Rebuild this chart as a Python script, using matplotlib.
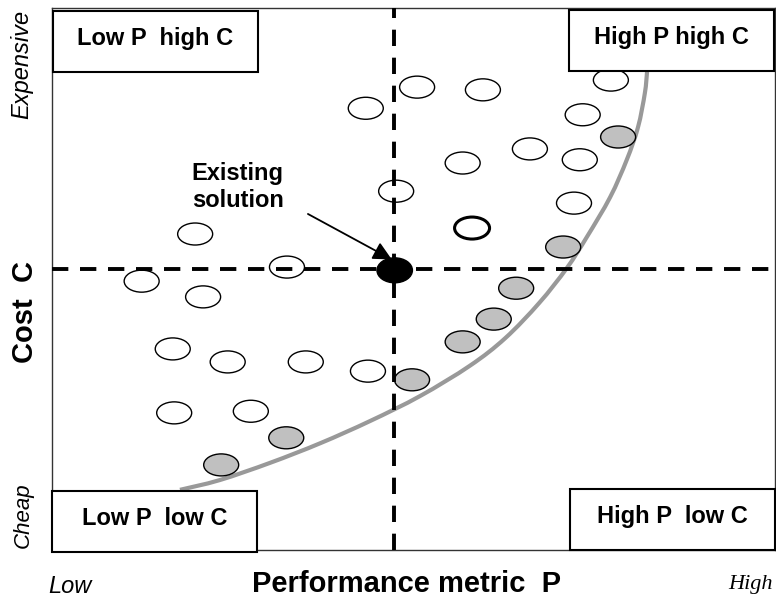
import matplotlib
matplotlib.use('Agg')
import matplotlib.pyplot as plt
from matplotlib.patches import Ellipse, Rectangle, PathPatch
from matplotlib.path import Path

# candidate designs (performance P, cost C) on a 0..100 scale
plain_p = [19.8, 12.4, 20.9, 32.5, 50.5, 59.6, 43.4, 77.3, 73.4, 66.1,
           56.8, 73.0, 47.6, 72.2, 16.7, 24.3, 35.1, 43.7, 16.9, 27.5]
plain_c = [58.3, 49.6, 46.7, 52.2, 85.4, 84.9, 81.5, 86.7, 80.3, 74.0,
           71.4, 72.0, 66.2, 64.0, 37.1, 34.7, 34.7, 33.0, 25.3, 25.6]

# designs sitting on the front
pareto_p = [78.3, 70.7, 64.2, 61.1, 56.8, 49.8, 32.4, 23.4]
pareto_c = [76.2, 55.9, 48.3, 42.6, 38.4, 31.4, 20.7, 15.7]

chosen_p = [58.1]
chosen_c = [59.4]

existing_p = 47.3
existing_c = 51.9

# grey front curve
front_p = [17.7, 23.2, 30.2, 37.1, 44.0, 50.9, 57.8, 62.7, 67.4, 71.2,
           74.0, 77.2, 79.5, 81.05, 82.0, 82.3, 82.4]
front_c = [11.1, 12.9, 16.1, 19.7, 23.8, 28.4, 34.0, 39.1, 45.6, 52.0,
           57.8, 65.1, 72.0, 78.0, 84.3, 88.2, 90.4]

corner_labels = ['Low P  high C', 'High P high C', 'Low P  low C', 'High P  low C']

BOLD = 'Liberation Sans'
W, H = 776, 601


def smooth_path(xs, ys):
    # catmull-rom through the read points, drawn as cubic bezier pieces
    pts = list(zip(xs, ys))
    pad = [pts[0]] + pts + [pts[-1]]
    verts = [pts[0]]
    codes = [Path.MOVETO]
    for i in range(1, len(pad) - 2):
        p0, p1, p2, p3 = pad[i - 1], pad[i], pad[i + 1], pad[i + 2]
        c1 = (p1[0] + (p2[0] - p0[0]) / 6, p1[1] + (p2[1] - p0[1]) / 6)
        c2 = (p2[0] - (p3[0] - p1[0]) / 6, p2[1] - (p3[1] - p1[1]) / 6)
        verts += [c1, c2, p2]
        codes += [Path.CURVE4] * 3
    return Path(verts, codes)


def main():
    fig = plt.figure(figsize=(W / 100, H / 100), dpi=100)
    ax = fig.add_axes([52 / W, 1 - 550 / H, 723 / W, 542 / H])
    ax.set_xlim(0, 100)
    ax.set_ylim(0, 100)
    ax.set_xticks([])
    ax.set_yticks([])
    for side in ax.spines.values():
        side.set_linewidth(1.0)
        side.set_color('#333333')

    ax.add_patch(PathPatch(smooth_path(front_p, front_c), facecolor='none',
                           edgecolor='#999999', lw=3.0, capstyle='butt', zorder=1))

    ew, eh = 4.84, 4.06
    for p, c in zip(plain_p, plain_c):
        ax.add_patch(Ellipse((p, c), ew, eh, facecolor='none', edgecolor='black', lw=1.0, zorder=2))
    for p, c in zip(pareto_p, pareto_c):
        ax.add_patch(Ellipse((p, c), ew, eh, facecolor='#c0c0c0', edgecolor='black', lw=1.0, zorder=2))
    for p, c in zip(chosen_p, chosen_c):
        ax.add_patch(Ellipse((p, c), ew, eh, facecolor='none', edgecolor='black', lw=2.2, zorder=2))

    dash = (4.2, 3.0)
    ax.axvline(existing_p, color='black', lw=2.8, dashes=dash, zorder=3)
    ax.axhline(existing_c, color='black', lw=2.8, dashes=dash, zorder=3)

    ax.add_patch(Ellipse((existing_p + 0.1, existing_c - 0.3), 4.9, 4.6,
                         facecolor='black', edgecolor='black', zorder=4))

    ax.annotate('', xy=(47.0, 53.6), xytext=(35.4, 62.0),
                arrowprops=dict(arrowstyle='-|>', color='black', lw=1.3, mutation_scale=28,
                                shrinkA=0, shrinkB=0), zorder=5)
    ax.text(25.7, 67.0, 'Existing\nsolution', ha='center', va='center',
            fontsize=17, fontweight='bold', family=BOLD, zorder=5)

    # corner boxes, in axes fractions
    bw, bh = 0.2835, 0.1125
    boxes = [(0.0014, 0.882), (0.715, 0.884), (0.0, -0.004), (0.7165, 0.0)]
    for (bx, by), label in zip(boxes, corner_labels):
        ax.add_patch(Rectangle((bx, by), bw, bh, transform=ax.transAxes, facecolor='white',
                               edgecolor='black', lw=1.5, zorder=6, clip_on=False))
        ax.text(bx + bw / 2, by + bh / 2 + 0.006, label, transform=ax.transAxes,
                ha='center', va='center', fontsize=17, fontweight='bold', family=BOLD, zorder=7)

    # axis words
    fig.text(22 / W, 1 - 64 / H, 'Expensive', rotation=90, ha='center', va='center',
             fontsize=17, style='italic', family=BOLD)
    fig.text(23 / W, 1 - 515 / H, 'Cheap', rotation=90, ha='center', va='center',
             fontsize=16, style='italic', family=BOLD)
    fig.text(25 / W, 1 - 312 / H, 'Cost  C', rotation=90, ha='center', va='center',
             fontsize=21, fontweight='bold', family=BOLD)
    fig.text(70 / W, 1 - 593 / H, 'Low', ha='center', va='baseline',
             fontsize=17, style='italic', family=BOLD)
    fig.text(406 / W, 1 - 592 / H, 'Performance metric  P', ha='center', va='baseline',
             fontsize=21, fontweight='bold', family=BOLD)
    fig.text(750 / W, 1 - 589 / H, 'High', ha='center', va='baseline',
             fontsize=16, style='italic', family='Liberation Serif')

    fig.savefig('out.png', dpi=100)


if __name__ == '__main__':
    main()
